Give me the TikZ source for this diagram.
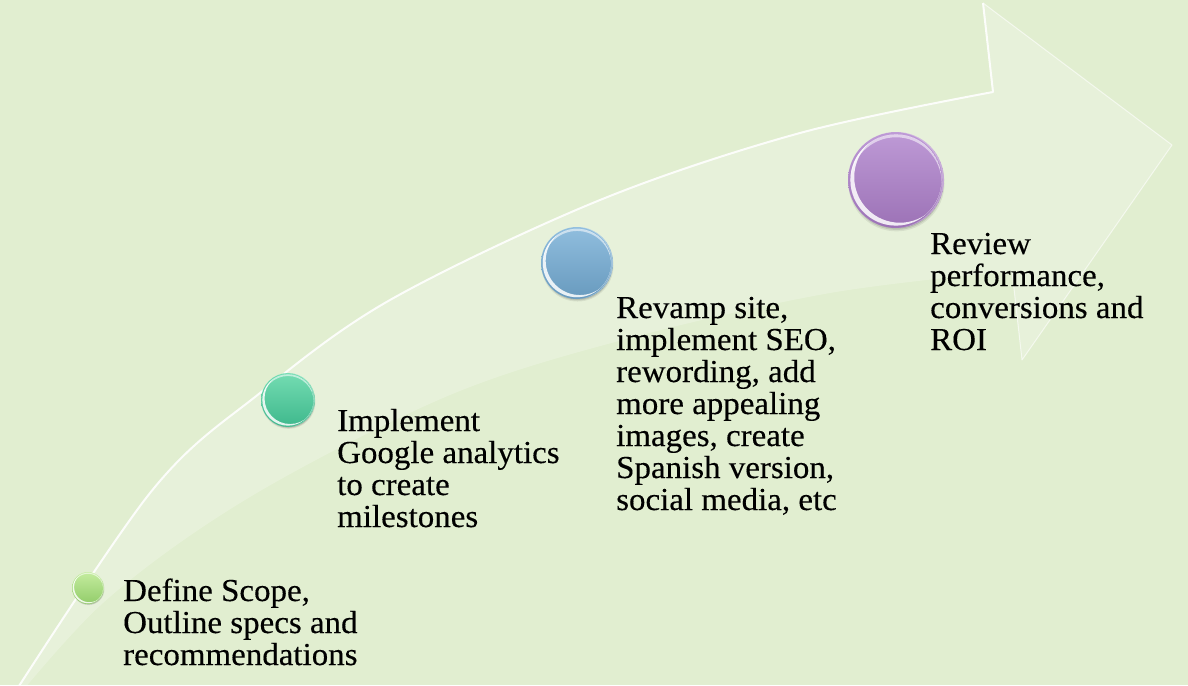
\documentclass[tikz,border=0pt]{standalone}
\usepackage{fontspec}
\setmainfont{Liberation Serif}[FakeStretch=1.03,FakeBold=0.3]
\usetikzlibrary{calc}
\definecolor{bgc}{RGB}{225,238,208}
\definecolor{grnL}{RGB}{196,236,158}
\definecolor{grnD}{RGB}{146,204,106}
\definecolor{tealL}{RGB}{116,220,178}
\definecolor{tealD}{RGB}{62,184,140}
\definecolor{bluL}{RGB}{144,190,222}
\definecolor{bluD}{RGB}{104,154,190}
\definecolor{purL}{RGB}{190,154,214}
\definecolor{purD}{RGB}{156,114,182}
% glossy orb: #1 name, #2 x, #3 y, #4 radius, #5 light colour, #6 dark colour
\newcommand\glossyorb[6]{%
  \foreach \k/\o in {1.0/0.07,0.97/0.10,0.94/0.12}
    \fill[black,opacity=\o] (#2+0.5,#3+0.07*#4) circle ({\k*#4 pt});
  \node[orbbody,minimum size={2*#4 pt},top color=#5,bottom color=#6] (#1) at (#2,#3) {};
  \begin{scope}
    \clip (#1.center) circle (#4 pt);
    % light rim on the right
    \fill[white,opacity=.3,even odd rule] (#1.center) circle (#4 pt)
      ($(#1.center)+(-0.035*#4,0)$) circle ({#4 pt});
  \end{scope}
  \begin{scope}
    \clip (#1.center) circle ({0.95*#4 pt});
    % glint at the upper edge
    \fill[white,opacity=.55,even odd rule] (#1.center) circle ({0.95*#4 pt})
      ($(#1.center)+(0,0.06*#4)$) circle ({0.95*#4 pt});
    % bright crescent at the lower left
    \fill[white,opacity=.85,even odd rule] (#1.center) circle ({0.95*#4 pt})
      ($(#1.center)+(0.08*#4,-0.06*#4)$) circle ({0.95*#4 pt});
  \end{scope}}
\begin{document}
\begin{tikzpicture}[x=1pt,y=-1pt,
  orbbody/.style={circle,inner sep=0pt,shading angle=30},
  lbl/.style={align=left,inner sep=0pt,anchor=base west,
    font=\fontsize{32}{32}\selectfont}]
\path[use as bounding box] (0,0) rectangle (1188,685);
\fill[bgc] (0,0) rectangle (1188,685);
\begin{scope}
  \clip (0,0) rectangle (1188,685);
  % curved upward arrow
  \fill[white,opacity=0.22]
    plot[smooth,tension=0.55] coordinates {(-8,728) (150,493) (260,393) (390,300) (600,200) (800,133) (993,92)}
    -- (983,3) -- (1172,145) -- (1022,360) -- (1012,271)
    -- plot[smooth,tension=0.55] coordinates {(1012,271) (830,293) (630,338) (450,395) (250,497) (103,603) (-8,728)}
    -- cycle;
  \draw[white,line width=2pt,opacity=0.9,line join=round]
    plot[smooth,tension=0.55] coordinates {(-8,728) (150,493) (260,393) (390,300) (600,200) (800,133) (993,92)}
    -- (983,3);
  \draw[white,line width=1pt,opacity=0.6,line join=round]
    (983,3) -- (1172,145) -- (1022,360) -- (1012,271);
\end{scope}
% milestones
\glossyorb{s1}{88}{588}{16}{grnL}{grnD}
\glossyorb{s2}{288}{400}{27}{tealL}{tealD}
\glossyorb{s3}{577}{263}{36}{bluL}{bluD}
\glossyorb{s4}{896}{180}{48}{purL}{purD}
% labels, placed by the baseline of their last line
\node[lbl] (t1) at (123,665) {Define Scope,\\Outline specs and\\recommendations};
\node[lbl] (t2) at (337,527) {Implement\\Google analytics\\to create\\milestones};
\node[lbl] (t3) at (616,510) {Revamp site,\\implement SEO,\\rewording, add\\more appealing\\images, create\\Spanish version,\\social media, etc};
\node[lbl] (t4) at (930,350) {Review\\performance,\\conversions and\\ROI};
\end{tikzpicture}
\end{document}
